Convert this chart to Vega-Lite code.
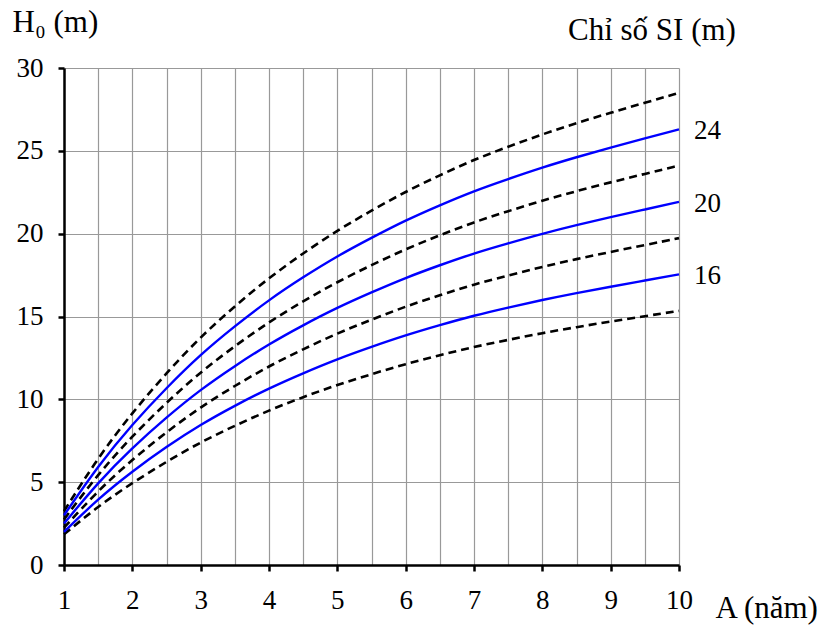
{
  "$schema": "https://vega.github.io/schema/vega-lite/v6.json",
  "autosize": "none",
  "width": 615,
  "height": 497,
  "padding": {"left": 64, "top": 68, "right": 149, "bottom": 63},
  "background": "white",
  "config": {
    "view": {"stroke": null},
    "font": "Liberation Serif",
    "axis": {
      "labelFont": "Liberation Serif",
      "titleFont": "Liberation Serif",
      "labelFontSize": 27,
      "titleFontSize": 31,
      "titleFontWeight": "normal",
      "labelColor": "black",
      "titleColor": "black",
      "gridColor": "#999999",
      "gridWidth": 1.2,
      "gridOpacity": 1,
      "domainColor": "black",
      "domainWidth": 2.5,
      "tickColor": "black",
      "tickWidth": 2.5,
      "tickSize": 6
    }
  },
  "title": {
    "text": "Chỉ số SI (m)",
    "anchor": "start",
    "frame": "group",
    "font": "Liberation Serif",
    "fontSize": 31,
    "fontWeight": "normal",
    "color": "black",
    "offset": 0,
    "baseline": "middle",
    "dx": 504,
    "dy": 56
  },
  "data": {
    "values": [
      {"A":1,"H":3.25,"SI":26,"kind":"b"},{"A":1.5,"H":6.5,"SI":26,"kind":"b"},{"A":2,"H":9.2,"SI":26,"kind":"b"},{"A":2.5,"H":11.6,"SI":26,"kind":"b"},{"A":3,"H":13.78,"SI":26,"kind":"b"},{"A":3.5,"H":15.63,"SI":26,"kind":"b"},{"A":4,"H":17.34,"SI":26,"kind":"b"},{"A":4.5,"H":18.82,"SI":26,"kind":"b"},{"A":5,"H":20.2,"SI":26,"kind":"b"},{"A":5.5,"H":21.4,"SI":26,"kind":"b"},{"A":6,"H":22.54,"SI":26,"kind":"b"},{"A":6.5,"H":23.53,"SI":26,"kind":"b"},{"A":7,"H":24.47,"SI":26,"kind":"b"},{"A":7.5,"H":25.25,"SI":26,"kind":"b"},{"A":8,"H":26,"SI":26,"kind":"b"},{"A":8.5,"H":26.68,"SI":26,"kind":"b"},{"A":9,"H":27.3,"SI":26,"kind":"b"},{"A":9.5,"H":27.9,"SI":26,"kind":"b"},{"A":10,"H":28.5,"SI":26,"kind":"b"},
      {"A":1,"H":3.0,"SI":24,"kind":"s"},{"A":1.5,"H":6.0,"SI":24,"kind":"s"},{"A":2,"H":8.5,"SI":24,"kind":"s"},{"A":2.5,"H":10.7,"SI":24,"kind":"s"},{"A":3,"H":12.72,"SI":24,"kind":"s"},{"A":3.5,"H":14.42,"SI":24,"kind":"s"},{"A":4,"H":16.01,"SI":24,"kind":"s"},{"A":4.5,"H":17.38,"SI":24,"kind":"s"},{"A":5,"H":18.65,"SI":24,"kind":"s"},{"A":5.5,"H":19.75,"SI":24,"kind":"s"},{"A":6,"H":20.81,"SI":24,"kind":"s"},{"A":6.5,"H":21.72,"SI":24,"kind":"s"},{"A":7,"H":22.58,"SI":24,"kind":"s"},{"A":7.5,"H":23.3,"SI":24,"kind":"s"},{"A":8,"H":24,"SI":24,"kind":"s"},{"A":8.5,"H":24.62,"SI":24,"kind":"s"},{"A":9,"H":25.2,"SI":24,"kind":"s"},{"A":9.5,"H":25.75,"SI":24,"kind":"s"},{"A":10,"H":26.3,"SI":24,"kind":"s"},
      {"A":1,"H":2.75,"SI":22,"kind":"b"},{"A":1.5,"H":5.5,"SI":22,"kind":"b"},{"A":2,"H":7.79,"SI":22,"kind":"b"},{"A":2.5,"H":9.81,"SI":22,"kind":"b"},{"A":3,"H":11.66,"SI":22,"kind":"b"},{"A":3.5,"H":13.22,"SI":22,"kind":"b"},{"A":4,"H":14.67,"SI":22,"kind":"b"},{"A":4.5,"H":15.93,"SI":22,"kind":"b"},{"A":5,"H":17.09,"SI":22,"kind":"b"},{"A":5.5,"H":18.11,"SI":22,"kind":"b"},{"A":6,"H":19.07,"SI":22,"kind":"b"},{"A":6.5,"H":19.91,"SI":22,"kind":"b"},{"A":7,"H":20.7,"SI":22,"kind":"b"},{"A":7.5,"H":21.36,"SI":22,"kind":"b"},{"A":8,"H":22,"SI":22,"kind":"b"},{"A":8.5,"H":22.57,"SI":22,"kind":"b"},{"A":9,"H":23.1,"SI":22,"kind":"b"},{"A":9.5,"H":23.61,"SI":22,"kind":"b"},{"A":10,"H":24.11,"SI":22,"kind":"b"},
      {"A":1,"H":2.5,"SI":20,"kind":"s"},{"A":1.5,"H":5.0,"SI":20,"kind":"s"},{"A":2,"H":7.08,"SI":20,"kind":"s"},{"A":2.5,"H":8.92,"SI":20,"kind":"s"},{"A":3,"H":10.6,"SI":20,"kind":"s"},{"A":3.5,"H":12.02,"SI":20,"kind":"s"},{"A":4,"H":13.34,"SI":20,"kind":"s"},{"A":4.5,"H":14.48,"SI":20,"kind":"s"},{"A":5,"H":15.54,"SI":20,"kind":"s"},{"A":5.5,"H":16.46,"SI":20,"kind":"s"},{"A":6,"H":17.34,"SI":20,"kind":"s"},{"A":6.5,"H":18.1,"SI":20,"kind":"s"},{"A":7,"H":18.82,"SI":20,"kind":"s"},{"A":7.5,"H":19.42,"SI":20,"kind":"s"},{"A":8,"H":20,"SI":20,"kind":"s"},{"A":8.5,"H":20.52,"SI":20,"kind":"s"},{"A":9,"H":21.0,"SI":20,"kind":"s"},{"A":9.5,"H":21.46,"SI":20,"kind":"s"},{"A":10,"H":21.92,"SI":20,"kind":"s"},
      {"A":1,"H":2.25,"SI":18,"kind":"b"},{"A":1.5,"H":4.5,"SI":18,"kind":"b"},{"A":2,"H":6.37,"SI":18,"kind":"b"},{"A":2.5,"H":8.03,"SI":18,"kind":"b"},{"A":3,"H":9.54,"SI":18,"kind":"b"},{"A":3.5,"H":10.82,"SI":18,"kind":"b"},{"A":4,"H":12.01,"SI":18,"kind":"b"},{"A":4.5,"H":13.03,"SI":18,"kind":"b"},{"A":5,"H":13.99,"SI":18,"kind":"b"},{"A":5.5,"H":14.81,"SI":18,"kind":"b"},{"A":6,"H":15.61,"SI":18,"kind":"b"},{"A":6.5,"H":16.29,"SI":18,"kind":"b"},{"A":7,"H":16.94,"SI":18,"kind":"b"},{"A":7.5,"H":17.48,"SI":18,"kind":"b"},{"A":8,"H":18,"SI":18,"kind":"b"},{"A":8.5,"H":18.47,"SI":18,"kind":"b"},{"A":9,"H":18.9,"SI":18,"kind":"b"},{"A":9.5,"H":19.31,"SI":18,"kind":"b"},{"A":10,"H":19.73,"SI":18,"kind":"b"},
      {"A":1,"H":2.0,"SI":16,"kind":"s"},{"A":1.5,"H":4.0,"SI":16,"kind":"s"},{"A":2,"H":5.66,"SI":16,"kind":"s"},{"A":2.5,"H":7.14,"SI":16,"kind":"s"},{"A":3,"H":8.48,"SI":16,"kind":"s"},{"A":3.5,"H":9.62,"SI":16,"kind":"s"},{"A":4,"H":10.67,"SI":16,"kind":"s"},{"A":4.5,"H":11.58,"SI":16,"kind":"s"},{"A":5,"H":12.43,"SI":16,"kind":"s"},{"A":5.5,"H":13.17,"SI":16,"kind":"s"},{"A":6,"H":13.87,"SI":16,"kind":"s"},{"A":6.5,"H":14.48,"SI":16,"kind":"s"},{"A":7,"H":15.06,"SI":16,"kind":"s"},{"A":7.5,"H":15.54,"SI":16,"kind":"s"},{"A":8,"H":16,"SI":16,"kind":"s"},{"A":8.5,"H":16.42,"SI":16,"kind":"s"},{"A":9,"H":16.8,"SI":16,"kind":"s"},{"A":9.5,"H":17.17,"SI":16,"kind":"s"},{"A":10,"H":17.54,"SI":16,"kind":"s"},
      {"A":1,"H":1.85,"SI":14,"kind":"b"},{"A":1.5,"H":3.55,"SI":14,"kind":"b"},{"A":2,"H":4.96,"SI":14,"kind":"b"},{"A":2.5,"H":6.24,"SI":14,"kind":"b"},{"A":3,"H":7.42,"SI":14,"kind":"b"},{"A":3.5,"H":8.41,"SI":14,"kind":"b"},{"A":4,"H":9.34,"SI":14,"kind":"b"},{"A":4.5,"H":10.14,"SI":14,"kind":"b"},{"A":5,"H":10.88,"SI":14,"kind":"b"},{"A":5.5,"H":11.52,"SI":14,"kind":"b"},{"A":6,"H":12.14,"SI":14,"kind":"b"},{"A":6.5,"H":12.67,"SI":14,"kind":"b"},{"A":7,"H":13.17,"SI":14,"kind":"b"},{"A":7.5,"H":13.59,"SI":14,"kind":"b"},{"A":8,"H":14,"SI":14,"kind":"b"},{"A":8.5,"H":14.36,"SI":14,"kind":"b"},{"A":9,"H":14.7,"SI":14,"kind":"b"},{"A":9.5,"H":15.02,"SI":14,"kind":"b"},{"A":10,"H":15.34,"SI":14,"kind":"b"}
    ]
  },
  "encoding": {
    "x": {
      "field": "A",
      "type": "quantitative",
      "scale": {"domain": [1, 10], "nice": false, "zero": false},
      "axis": {
        "values": [1,1.5,2,2.5,3,3.5,4,4.5,5,5.5,6,6.5,7,7.5,8,8.5,9,9.5,10],
        "labelExpr": "datum.value % 1 === 0 ? format(datum.value, 'd') : ''",
        "tickOpacity": {"condition": {"test": "datum.value % 1 !== 0", "value": 0}, "value": 1},
        "labelPadding": 16,
        "labelFlush": false,
        "labelOverlap": false,
        "grid": true,
        "title": "A (năm)",
        "titleX": 651,
        "titleY": 43,
        "titleAlign": "left",
        "titleBaseline": "middle",
        "titleAnchor": null
      }
    },
    "y": {
      "field": "H",
      "type": "quantitative",
      "scale": {"domain": [0, 30], "nice": false},
      "axis": {
        "values": [0, 5, 10, 15, 20, 25, 30],
        "format": "d",
        "labelPadding": 15,
        "labelFlush": false,
        "grid": true,
        "title": "H₀ (m)",
        "titleAngle": 0,
        "titleX": -52,
        "titleY": -46,
        "titleAlign": "left",
        "titleBaseline": "middle",
        "titleAnchor": null
      }
    }
  },
  "layer": [
    {
      "transform": [{"filter": "datum.kind === 'b'"}],
      "mark": {"type": "line", "color": "black", "strokeWidth": 2.6, "strokeDash": [8, 5], "interpolate": "basis"},
      "encoding": {"detail": {"field": "SI", "type": "nominal"}}
    },
    {
      "transform": [{"filter": "datum.kind === 's'"}],
      "mark": {"type": "line", "color": "#0000ff", "strokeWidth": 2.4, "interpolate": "basis"},
      "encoding": {"detail": {"field": "SI", "type": "nominal"}}
    },
    {
      "transform": [{"filter": "datum.kind === 's' && datum.A === 10"}],
      "mark": {"type": "text", "align": "left", "baseline": "middle", "dx": 15, "dy": 2, "font": "Liberation Serif", "fontSize": 27, "color": "black"},
      "encoding": {"text": {"field": "SI", "type": "nominal"}}
    }
  ]
}
